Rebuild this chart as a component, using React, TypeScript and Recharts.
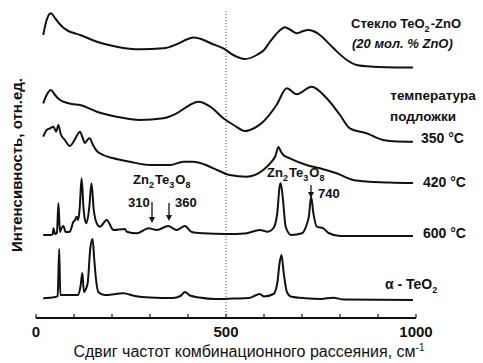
import React from 'react';
import { LineChart, Line, XAxis, YAxis, ReferenceLine, Customized } from 'recharts';

// x: Raman shift (cm^-1), y: intensity (arb. units, stacked)
const glass: [number, number][] = [
  [19, 283], [28, 298], [39, 304.7], [50, 300], [60, 295], [70, 291], [85, 287], [100, 285], [116, 283],
  [160, 276.3], [212, 271.3], [274, 268.7], [335, 269.7], [370, 273.7], [400, 279], [415, 280.5], [430, 279.5],
  [466, 273.7], [493, 269.7], [519, 263], [550, 259], [581, 263], [600, 268], [616, 276.3], [640, 287],
  [655, 290.7], [670, 288], [686, 284.7], [700, 286.5], [717, 288], [735, 286], [747, 283], [783, 269.7],
  [818, 258], [844, 253], [887, 251.3], [950, 250.5], [992, 250.5],
];
const t350: [number, number][] = [
  [19, 214.7], [28, 223], [39, 228], [50, 223], [60, 219], [72, 216.3], [94, 214], [116, 213], [160, 206.3],
  [212, 201.3], [274, 198], [335, 199.7], [370, 204.7], [405, 213], [427, 216.3], [460, 211], [493, 199.7],
  [520, 193], [550, 187], [575, 190], [598, 196.3], [633, 213], [660, 229.7], [686, 223.7], [725, 231.3],
  [765, 219.7], [800, 203], [826, 189.7], [870, 184.7], [913, 178], [950, 176.5], [992, 176.3],
];
const t420: [number, number][] = [
  [19, 181.3], [28, 188], [37, 189.7], [46, 191.3], [53, 186.3], [59, 193], [65, 184], [76, 178], [89, 172],
  [100, 177], [110, 184], [116, 186.3], [122, 181], [129, 175], [136, 178.5], [141, 179.7], [150, 173],
  [160, 167], [168, 164.7], [204, 159.7], [247, 156.3], [300, 153], [353, 153], [388, 156.3], [414, 156.3],
  [440, 154], [467, 149.7], [510, 143], [554, 141.3], [598, 148], [620, 156.3], [630, 162], [638, 171],
  [645, 166], [651, 163], [668, 159.7], [712, 153], [747, 149.7], [791, 144.7], [835, 138], [879, 136.3],
  [930, 135.5], [992, 135],
];
const t600: [number, number][] = [
  [19, 83], [40, 83], [44, 84], [46, 89.7], [50, 84], [55, 85], [59, 114.7], [63, 86], [65, 88], [72, 92],
  [78, 86], [89, 86.3], [98, 96], [103, 98], [107, 101.3], [111, 98], [115, 110], [120, 139.7], [125, 110],
  [129, 98], [133, 94.7], [140, 110], [146, 134.7], [152, 108], [160, 94.7], [168, 91.3], [186, 98],
  [204, 88], [234, 89], [239, 86.3], [265, 84.7], [296, 89.7], [318, 88], [348, 92], [370, 88], [392, 92],
  [410, 86], [440, 84.7], [500, 84], [550, 84.5], [589, 88], [610, 86.3], [625, 90], [635, 105], [641, 131.3],
  [644, 134.7], [650, 118], [657, 91.3], [672, 83], [700, 84.7], [712, 93], [718, 101.3], [724, 121.3],
  [730, 104.7], [739, 91.3], [756, 89.7], [770, 85], [800, 82], [992, 82],
];
const alphaTeO2: [number, number][] = [
  [19, 19.7], [50, 21], [57, 22], [61, 69], [64, 23], [75, 23], [110, 23], [117, 31.3], [122, 45],
  [126, 26], [130, 28], [136, 35], [143, 70], [149, 79], [153, 60], [157, 42], [164, 26], [180, 23],
  [230, 24.7], [260, 22], [300, 20.5], [360, 20], [380, 22], [392, 26], [405, 22.5], [430, 20.5],
  [470, 19], [520, 19.5], [560, 20], [580, 23], [589, 24], [600, 21.5], [625, 24], [635, 35], [641, 55],
  [646, 63], [652, 44.7], [660, 26.3], [670, 21.5], [710, 19.7], [750, 19], [782, 20.3], [810, 18.5],
  [992, 18],
];

const xTicks = [0, 100, 200, 300, 400, 500, 600, 700, 800, 900, 1000];
const xTickLabels = ['0', '', '', '', '', '500', '', '', '', '', '1000'];

const toPts = (arr: [number, number][]) => arr.map(([x, y]) => ({ x, y }));
const seriesList = [glass, t350, t420, t600, alphaTeO2].map(toPts);

const FONT = "Arial, 'Liberation Sans', sans-serif";

const Sub = ({ c }: { c: string }) => (
  <>
    <tspan dy={4} fontSize={9}>{c}</tspan>
    <tspan dy={-4}>{'\u200A'}</tspan>
  </>
);

const Arrow = ({ x, y1, y2 }: { x: number; y1: number; y2: number }) => (
  <g>
    <line x1={x} y1={y1} x2={x} y2={y2 - 4} stroke="#111" strokeWidth={1.3} />
    <path d={`M${x - 3},${y2 - 6} L${x + 3},${y2 - 6} L${x},${y2} Z`} fill="#111" />
  </g>
);

const Overlay = () => (
  <g fontFamily={FONT} fill="#111">
    <text x={351} y={28} fontSize={13} fontWeight="bold">
      Стекло TeO<Sub c="2" />-ZnO
    </text>
    <text x={352} y={48} fontSize={13} fontWeight="bold" fontStyle="italic">(20 мол. % ZnO)</text>
    <text x={433} y={100} fontSize={13.5} fontWeight="bold" textAnchor="middle">температура</text>
    <text x={423} y={121} fontSize={13.5} fontWeight="bold" textAnchor="middle">подложки</text>
    <text x={421} y={143} fontSize={14} fontWeight="bold">350 °C</text>
    <text x={423} y={187} fontSize={14} fontWeight="bold">420 °C</text>
    <text x={423} y={238} fontSize={14} fontWeight="bold">600 °C</text>
    <text x={385} y={289} fontSize={14} fontWeight="bold">
      α - TeO<Sub c="2" />
    </text>
    <text x={133} y={184} fontSize={13} fontWeight="bold">
      Zn<Sub c="2" />Te<Sub c="3" />O<Sub c="8" />
    </text>
    <text x={128} y={207} fontSize={13} fontWeight="bold">310</text>
    <text x={175} y={207} fontSize={13} fontWeight="bold">360</text>
    <text x={267} y={177} fontSize={13} fontWeight="bold">
      Zn<Sub c="2" />Te<Sub c="3" />O<Sub c="8" />
    </text>
    <text x={318} y={198} fontSize={13} fontWeight="bold">740</text>
    <Arrow x={152} y1={202} y2={223} />
    <Arrow x={169} y1={203} y2={221} />
    <Arrow x={311} y1={185} y2={198} />
    <text x={249} y={357} fontSize={16} textAnchor="middle">
      Сдвиг частот комбинационного рассеяния, см<tspan dy={-6} fontSize={10}>-1</tspan>
    </text>
    <text
      x={0}
      y={0}
      fontSize={15}
      fontWeight="bold"
      textAnchor="middle"
      transform="translate(22,165) rotate(-90)"
    >
      Интенсивность, отн.ед.
    </text>
  </g>
);

export default function App() {
  return (
    <div style={{ position: 'absolute', left: 0, top: 0, width: 483, height: 363, background: '#fff' }}>
      <LineChart width={483} height={363} margin={{ top: 10, right: 67, bottom: 0, left: 36 }}>
        <XAxis
          dataKey="x"
          type="number"
          domain={[0, 1000]}
          ticks={xTicks}
          tickFormatter={(v: number) => xTickLabels[xTicks.indexOf(v)] ?? ''}
          tickSize={-4}
          tickMargin={12}
          height={45}
          interval={0}
          axisLine={{ stroke: '#111', strokeWidth: 2 }}
          tickLine={{ stroke: '#111', strokeWidth: 1.2 }}
          tick={{ fill: '#111', fontSize: 15, fontWeight: 'bold', fontFamily: FONT }}
          allowDataOverflow
        />
        <YAxis
          type="number"
          domain={[0, 308]}
          width={0}
          tick={false}
          tickLine={false}
          axisLine={{ stroke: '#111', strokeWidth: 2 }}
          allowDataOverflow
        />
        <ReferenceLine x={500} stroke="#555" strokeDasharray="1 2" strokeWidth={1} />
        {seriesList.map((d, i) => (
          <Line
            key={i}
            data={d}
            dataKey="y"
            type="monotone"
            stroke="#111"
            strokeWidth={2}
            dot={false}
            activeDot={false}
            isAnimationActive={false}
          />
        ))}
        <Customized component={Overlay} />
      </LineChart>
    </div>
  );
}
